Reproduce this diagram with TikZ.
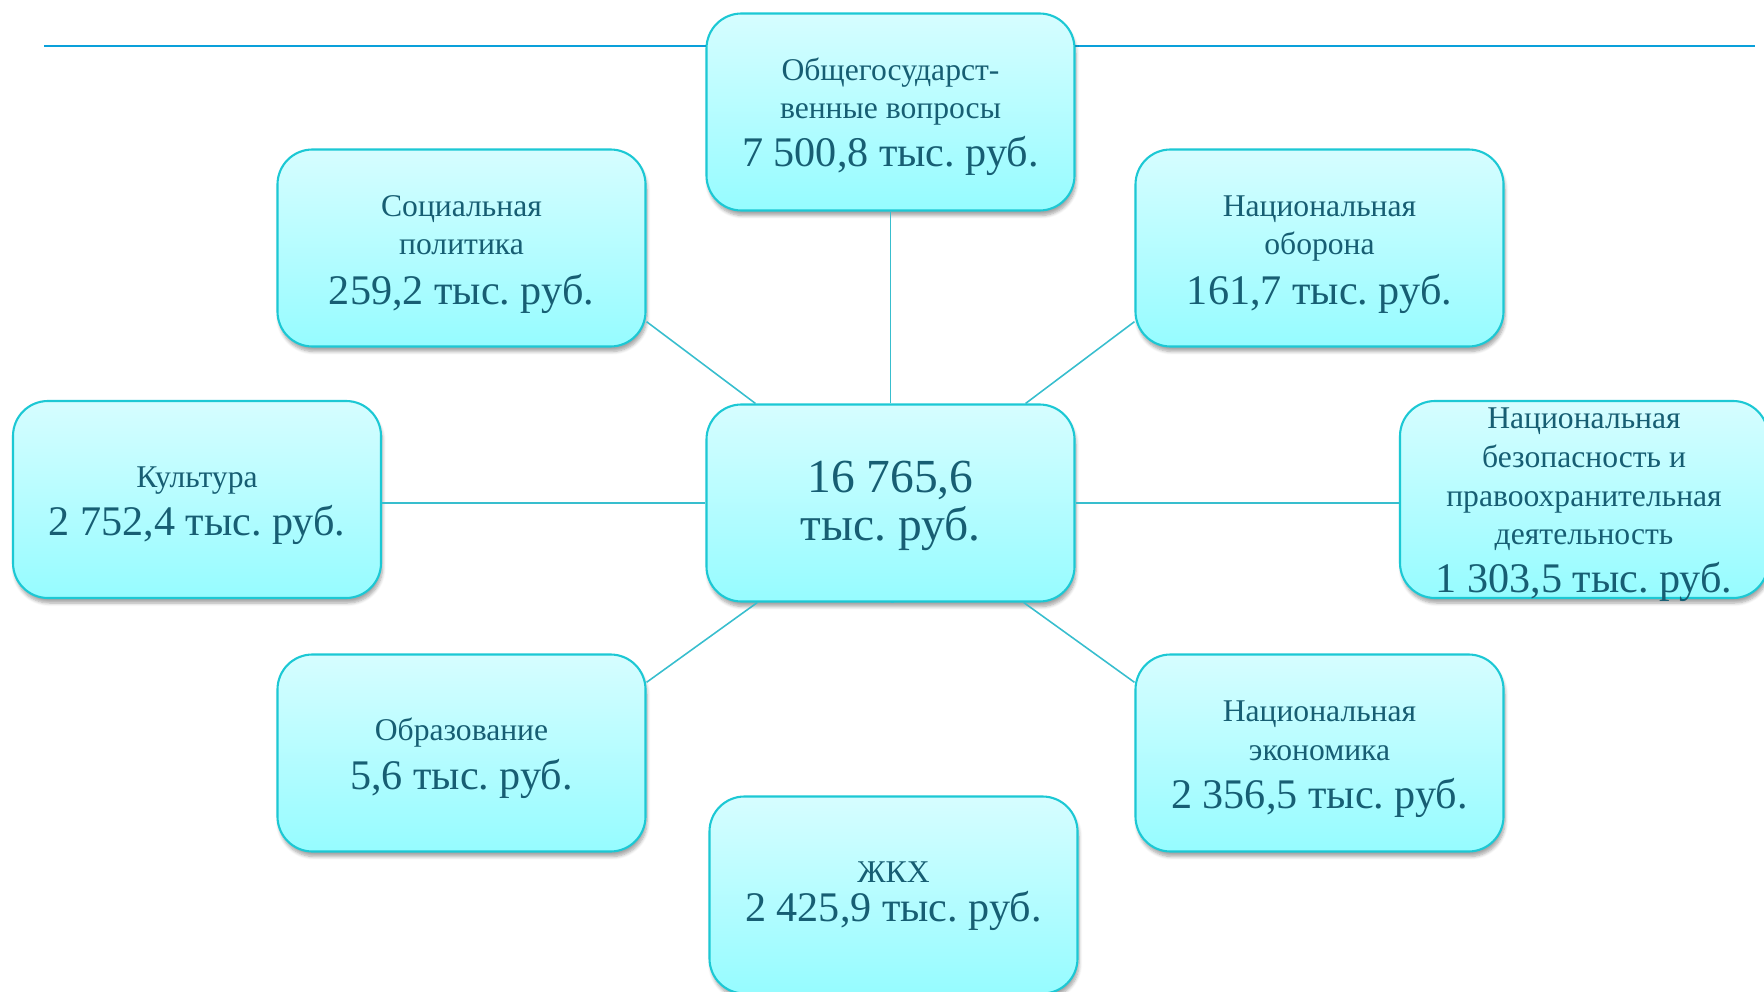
\documentclass[tikz,border=0pt]{standalone}
\usepackage{fontspec}
\setmainfont{Liberation Serif}
\usetikzlibrary{calc,shadows.blur}
\definecolor{boxline}{RGB}{28,200,212}
\definecolor{boxtop}{RGB}{214,253,255}
\definecolor{boxbot}{RGB}{150,252,255}
\definecolor{txtcol}{RGB}{23,94,115}
\definecolor{linkcol}{RGB}{56,190,206}
\definecolor{rulecol}{RGB}{10,160,218}
\newcommand{\sumfont}{\fontsize{24}{26}\selectfont}
\newcommand{\toppad}[1][19pt]{\rule{0pt}{#1}}
\frenchspacing

\begin{document}
\begin{tikzpicture}[
        cell/.style={draw=boxline, line width=1.2pt, rounded corners=0.7cm,
            top color=boxtop, bottom color=boxbot,
            minimum width=7.36cm, minimum height=3.94cm,
            blur shadow={shadow xshift=0.03cm, shadow yshift=-0.1cm, shadow opacity=35, shadow blur steps=6},
            text=txtcol, align=center, font=\fontsize{18}{22}\selectfont},
        link/.style={draw=linkcol, line width=0.9pt}]
            \useasboundingbox (0,0) rectangle (35.28,-19.84);
            \draw[rulecol, line width=1.7pt] (0.88,-0.92) -- (35.1,-0.92);

            \node[cell, font=\fontsize{27}{27}\selectfont] (AA) at (17.81,-10.06) {\toppad[21pt]16 765,6\\ тыс. руб.};

            \node[cell] (AB) at (17.81,-2.24) {\toppad[18pt]Общегосударст-\\венные вопросы\\[5pt] {\sumfont 7 500,8 тыс. руб.}};
            \node[cell] (AC) at (9.23,-4.96) {\toppad Социальная\\политика\\[6pt] {\sumfont 259,2 тыс. руб.}};
            \node[cell] (AD) at (26.39,-4.96) {\toppad Национальная\\оборона\\[6pt] {\sumfont 161,7 тыс. руб.}};
            \node[cell] (AE) at (3.94,-9.99) {\toppad Культура\\[5.5pt] {\sumfont 2 752,4 тыс. руб.}};
            \node[cell] (AF) at (31.68,-9.99) {};
            \node[text=txtcol, align=center, font=\fontsize{18}{22}\selectfont] (AFt) at ([yshift=-3pt]AF.center) {Национальная\\безопасность и\\правоохранительная\\деятельность\\[5pt] {\sumfont 1 303,5 тыс. руб.}};
            \node[cell] (AG) at (9.23,-15.06) {\toppad Образование\\[5.5pt] {\sumfont 5,6 тыс. руб.}};
            \node[cell] (AH) at (26.39,-15.06) {\toppad Национальная\\экономика\\[5.5pt] {\sumfont 2 356,5 тыс. руб.}};
            \node[cell] (AI) at (17.87,-17.90) {\toppad[13.5pt]ЖКХ\\[0pt] {\sumfont 2 425,9 тыс. руб.}};

            \draw[link] (AA.north) -- (AB.south);
            \draw[link] ($(AC.east)!0.74!(AC.south east)$) -- ($(AA.north west)!0.27!(AA.north)$);
            \draw[link] ($(AD.west)!0.74!(AD.south west)$) -- ($(AA.north east)!0.27!(AA.north)$);
            \draw[link] (AA.west) -- (AA.west -| AE.east);
            \draw[link] (AA.east) -- (AA.east -| AF.west);
            \draw[link] ($(AG.east)!0.71!(AG.north east)$) -- ($(AA.south west)!0.28!(AA.south)$);
            \draw[link] ($(AH.west)!0.71!(AH.north west)$) -- ($(AA.south east)!0.28!(AA.south)$);
            \draw[link] (AA.south) -- (AA.south -| AI.north);
        \end{tikzpicture}
\end{document}
